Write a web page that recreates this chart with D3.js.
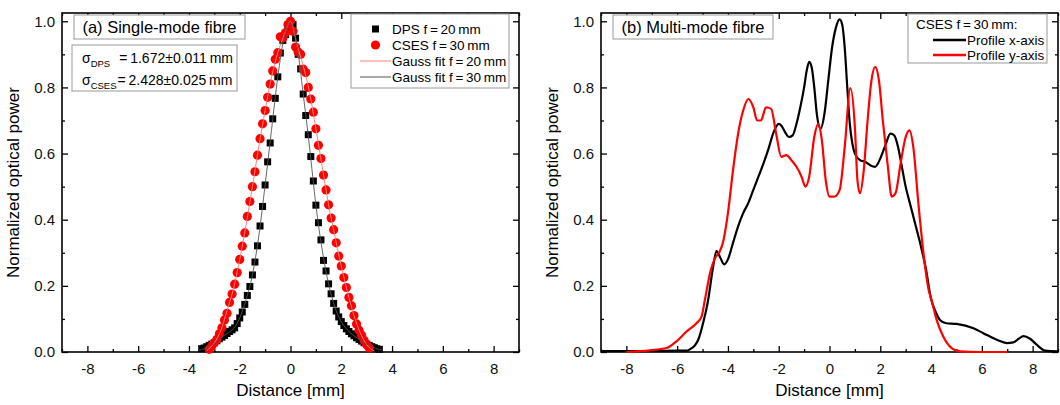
<!DOCTYPE html>
<html>
<head>
<meta charset="utf-8">
<script src="https://cdn.jsdelivr.net/npm/d3@7"></script>
<style>
  body { margin: 0; background: #fff; }
  text { font-family: "Liberation Sans", Arial, sans-serif; }
</style>
</head>
<body>
<div id="chart"></div>
<script>
// ---- data ----
// panel (a): single-mode fibre
const dpsX = [-3.5,-3.4,-3.3,-3.2,-3.1,-3.0,-2.9,-2.8,-2.7,-2.6,-2.5,-2.4,-2.3,-2.2,-2.1,-2.0,-1.9,-1.8,-1.7,-1.6,-1.5,-1.4,-1.3,-1.2,-1.1,-1.0,-0.9,-0.8,-0.7,-0.6,-0.5,-0.4,-0.3,-0.2,-0.1,0.0,0.1,0.2,0.3,0.4,0.5,0.6,0.7,0.8,0.9,1.0,1.1,1.2,1.3,1.4,1.5,1.6,1.7,1.8,1.9,2.0,2.1,2.2,2.3,2.4,2.5,2.6,2.7,2.8,2.9,3.0,3.1,3.2,3.3,3.4,3.5]
const dpsY = [0.010,0.012,0.016,0.020,0.024,0.028,0.034,0.040,0.045,0.050,0.056,0.062,0.067,0.073,0.086,0.103,0.121,0.144,0.171,0.198,0.233,0.272,0.321,0.381,0.440,0.505,0.575,0.632,0.705,0.767,0.832,0.904,0.942,0.960,0.975,0.995,0.990,0.949,0.900,0.856,0.780,0.715,0.657,0.591,0.517,0.444,0.391,0.339,0.277,0.245,0.206,0.176,0.147,0.124,0.106,0.092,0.080,0.070,0.062,0.055,0.049,0.043,0.038,0.033,0.028,0.024,0.020,0.016,0.013,0.010,0.008]

const csesX = [-3.2,-3.1,-3.0,-2.9,-2.8,-2.7,-2.6,-2.5,-2.4,-2.3,-2.2,-2.1,-2.0,-1.9,-1.8,-1.7,-1.6,-1.5,-1.4,-1.3,-1.2,-1.1,-1.0,-0.9,-0.8,-0.7,-0.6,-0.5,-0.4,-0.3,-0.2,-0.1,0.0,0.1,0.2,0.3,0.4,0.5,0.6,0.7,0.8,0.9,1.0,1.1,1.2,1.3,1.4,1.5,1.6,1.7,1.8,1.9,2.0,2.1,2.2,2.3,2.4,2.5,2.6,2.7,2.8,2.9,3.0,3.1]
const csesY = [0.008,0.018,0.028,0.038,0.055,0.073,0.097,0.117,0.150,0.175,0.205,0.240,0.280,0.320,0.360,0.410,0.455,0.500,0.545,0.595,0.645,0.690,0.730,0.770,0.810,0.850,0.885,0.905,0.953,0.950,0.965,0.990,1.000,0.970,0.922,0.907,0.900,0.855,0.845,0.800,0.765,0.725,0.675,0.625,0.585,0.535,0.490,0.445,0.405,0.370,0.330,0.290,0.260,0.225,0.195,0.165,0.140,0.110,0.085,0.066,0.051,0.035,0.022,0.012]

const fitDpsX = [-3.6,-3.25,-3.0,-2.75,-2.5,-2.25,-2.0,-1.75,-1.5,-1.25,-1.0,-0.75,-0.5,-0.25,0,0.25,0.5,0.75,1.0,1.25,1.5,1.75,2.0,2.25,2.5,2.75,3.0,3.25,3.6]
const fitDpsY = [0.006,0.014,0.026,0.042,0.056,0.070,0.103,0.158,0.233,0.350,0.505,0.670,0.832,0.952,0.998,0.930,0.780,0.620,0.444,0.308,0.206,0.135,0.092,0.066,0.049,0.036,0.024,0.014,0.006]

const fitCsesX = [-3.3,-3.0,-2.75,-2.5,-2.25,-2.0,-1.75,-1.5,-1.25,-1.0,-0.75,-0.5,-0.25,0,0.25,0.5,0.75,1.0,1.25,1.5,1.75,2.0,2.25,2.5,2.75,3.0,3.3]
const fitCsesY = [0.004,0.028,0.064,0.125,0.190,0.280,0.385,0.500,0.620,0.730,0.830,0.905,0.958,1.000,0.930,0.865,0.785,0.675,0.560,0.445,0.350,0.260,0.180,0.110,0.058,0.022,0.003]

// panel (b): multi-mode fibre, CSES f = 30 mm
const profXx = [-9,-7,-6,-5.63,-5.5,-5.3,-5.17,-4.98,-4.78,-4.6,-4.45,-4.3,-4.15,-4.0,-3.8,-3.6,-3.4,-3.2,-3.0,-2.8,-2.6,-2.4,-2.2,-2.0,-1.9,-1.75,-1.6,-1.45,-1.3,-1.15,-1.0,-0.9,-0.8,-0.7,-0.6,-0.5,-0.35,-0.2,-0.05,0.1,0.25,0.4,0.5,0.6,0.7,0.8,0.9,1.0,1.2,1.4,1.6,1.8,2.0,2.2,2.4,2.55,2.7,2.85,3.0,3.2,3.4,3.6,3.8,4.0,4.15,4.35,4.6,5.0,5.67,6.06,6.59,6.98,7.24,7.45,7.64,7.9,8.16,8.5,9]
const profXy = [0.003,0.003,0.004,0.004,0.008,0.020,0.037,0.087,0.157,0.250,0.305,0.285,0.265,0.280,0.330,0.380,0.420,0.450,0.490,0.530,0.570,0.615,0.665,0.690,0.685,0.665,0.650,0.655,0.690,0.740,0.800,0.850,0.877,0.860,0.800,0.720,0.675,0.720,0.820,0.920,0.980,1.006,0.990,0.920,0.800,0.690,0.630,0.600,0.580,0.575,0.565,0.560,0.585,0.625,0.660,0.655,0.620,0.560,0.500,0.440,0.380,0.320,0.250,0.160,0.127,0.097,0.087,0.085,0.072,0.057,0.037,0.027,0.029,0.040,0.048,0.040,0.022,0.004,0.002]

const profYx = [-8,-7.08,-6.42,-6.03,-5.63,-5.24,-5.04,-4.91,-4.7,-4.5,-4.35,-4.2,-4.0,-3.8,-3.6,-3.4,-3.2,-3.0,-2.85,-2.7,-2.5,-2.3,-2.1,-1.9,-1.7,-1.5,-1.3,-1.1,-0.95,-0.8,-0.6,-0.45,-0.3,-0.15,0.0,0.2,0.4,0.6,0.82,1.0,1.1,1.2,1.35,1.5,1.65,1.8,1.95,2.1,2.3,2.45,2.6,2.8,3.0,3.15,3.3,3.5,3.7,3.9,4.02,4.22,4.48,4.81,5.14,6.0,7.0]
const profYy = [0.000,0.005,0.012,0.032,0.062,0.087,0.107,0.157,0.240,0.285,0.300,0.330,0.420,0.550,0.660,0.730,0.765,0.740,0.700,0.700,0.740,0.735,0.660,0.590,0.595,0.580,0.560,0.530,0.500,0.530,0.650,0.690,0.640,0.520,0.470,0.470,0.490,0.620,0.798,0.680,0.520,0.480,0.550,0.700,0.820,0.862,0.820,0.700,0.560,0.470,0.480,0.570,0.650,0.670,0.620,0.450,0.300,0.190,0.157,0.097,0.047,0.012,0.002,0.000,0.000]

const xMajor = [-8,-6,-4,-2,0,2,4,6,8]
const xMinor = [-9,-7,-5,-3,-1,1,3,5,7,9]
const yMajor = [0,0.2,0.4,0.6,0.8,1.0]
const yMinor = [0.1,0.3,0.5,0.7,0.9]

// ---- layout ----
const W = 1060, H = 405
const plotTop = 13, plotBottom = 352
const panelA = {left: 62, right: 519}
const panelB = {left: 601, right: 1058}

const svg = d3.select("#chart").append("svg")
  .attr("width", W)
  .attr("height", H)

const y = d3.scaleLinear().domain([0, 1.025]).range([plotBottom, plotTop])
const fmtX = d => String(d)

function drawFrame(p) {
  const x = d3.scaleLinear().domain([-9, 9]).range([p.left, p.right])
  const g = svg.append("g")

  // bottom (labels) + minor, top mirror
  g.append("g").attr("transform", `translate(0,${plotBottom})`)
    .call(d3.axisBottom(x).tickValues(xMajor).tickSize(-6).tickPadding(11).tickFormat(fmtX))
  g.append("g").attr("transform", `translate(0,${plotBottom})`)
    .call(d3.axisBottom(x).tickValues(xMinor).tickSize(-3).tickFormat(""))
  g.append("g").attr("transform", `translate(0,${plotTop})`)
    .call(d3.axisTop(x).tickValues(xMajor).tickSize(-6).tickFormat(""))
  g.append("g").attr("transform", `translate(0,${plotTop})`)
    .call(d3.axisTop(x).tickValues(xMinor).tickSize(-3).tickFormat(""))

  g.append("g").attr("transform", `translate(${p.left},0)`)
    .call(d3.axisLeft(y).tickValues(yMajor).tickSize(-6).tickPadding(7).tickFormat(d3.format(".1f")))
  g.append("g").attr("transform", `translate(${p.left},0)`)
    .call(d3.axisLeft(y).tickValues(yMinor).tickSize(-3).tickFormat(""))
  g.append("g").attr("transform", `translate(${p.right},0)`)
    .call(d3.axisRight(y).tickValues(yMajor).tickSize(-6).tickFormat(""))
  g.append("g").attr("transform", `translate(${p.right},0)`)
    .call(d3.axisRight(y).tickValues(yMinor).tickSize(-3).tickFormat(""))

  g.selectAll(".domain").remove()
  g.selectAll(".tick line").attr("stroke", "#000").attr("stroke-width", 1.3)
  g.selectAll(".tick text")
    .style("font-family", "'Liberation Sans', Arial, sans-serif")
    .style("font-size", "15px")
    .attr("fill", "#111")

  g.append("rect")
    .attr("x", p.left).attr("y", plotTop)
    .attr("width", p.right - p.left).attr("height", plotBottom - plotTop)
    .attr("fill", "none").attr("stroke", "#000").attr("stroke-width", 1.6)

  // axis titles
  svg.append("text")
    .attr("x", (p.left + p.right) / 2).attr("y", 396)
    .attr("text-anchor", "middle")
    .style("font-size", "17px")
    .text("Distance [mm]")
  svg.append("text")
    .attr("transform", `translate(${p.left - 43},${(plotTop + plotBottom) / 2}) rotate(-90)`)
    .attr("text-anchor", "middle")
    .style("font-size", "17px")
    .text("Normalized optical power")

  return x
}

function titleBox(p, text, w) {
  svg.append("rect")
    .attr("x", p.left + 12).attr("y", 15)
    .attr("width", w).attr("height", 24)
    .attr("fill", "#fff").attr("stroke", "#999").attr("stroke-width", 1)
  svg.append("text")
    .attr("x", p.left + 12 + w / 2).attr("y", 33)
    .attr("text-anchor", "middle")
    .style("font-size", "16.5px")
    .text(text)
}

// ---- panel (a) ----
const xa = drawFrame(panelA)

const plotA = svg.append("g")
const dps = dpsX.map((d, i) => ({x: d, y: dpsY[i]}))
const cses = csesX.map((d, i) => ({x: d, y: csesY[i]}))

plotA.selectAll("rect.dps")
  .data(dps)
  .join("rect")
    .attr("class", "dps")
    .attr("x", d => xa(d.x) - 3.5)
    .attr("y", d => y(d.y) - 3.5)
    .attr("width", 7)
    .attr("height", 7)
    .attr("fill", "#000")

plotA.selectAll("circle.cses")
  .data(cses)
  .join("circle")
    .attr("class", "cses")
    .attr("cx", d => xa(d.x))
    .attr("cy", d => y(d.y))
    .attr("r", 4.6)
    .attr("fill", "#ff0000")

const lineA = d3.line().x(d => xa(d[0])).y(d => y(d[1])).curve(d3.curveMonotoneX)
plotA.append("path")
  .datum(fitCsesX.map((d, i) => [d, fitCsesY[i]]))
  .attr("d", lineA)
  .attr("fill", "none").attr("stroke", "#ff8080").attr("stroke-width", 1)
plotA.append("path")
  .datum(fitDpsX.map((d, i) => [d, fitDpsY[i]]))
  .attr("d", lineA)
  .attr("fill", "none").attr("stroke", "#555").attr("stroke-width", 0.9)

titleBox(panelA, "(a) Single-mode fibre", 171)

// sigma box
svg.append("rect")
  .attr("x", 72).attr("y", 45).attr("width", 165).attr("height", 46)
  .attr("fill", "#fff").attr("stroke", "#999")
const sig = [
  {sub: "DPS", val: "=\u20091.672\u00b10.011\u2009mm", yy: 63},
  {sub: "CSES", val: "=\u20092.428\u00b10.025\u2009mm", yy: 85}
]
sig.forEach(s => {
  const t = svg.append("text").attr("x", 82).attr("y", s.yy).style("font-size", "14px")
  t.append("tspan").text("\u03c3")
  t.append("tspan").attr("dy", 4).style("font-size", "9.5px").text(s.sub)
  t.append("tspan").attr("dy", -4).attr("dx", s.sub == "DPS" ? 9 : 1).text(s.val)
})

// legend (a)
svg.append("rect")
  .attr("x", 351).attr("y", 14).attr("width", 158).attr("height", 74)
  .attr("fill", "#fff").attr("stroke", "#999")
const legA = [
  {label: "DPS f\u2009=\u200920\u2009mm", type: "square"},
  {label: "CSES f\u2009=\u200930\u2009mm", type: "circle"},
  {label: "Gauss fit f\u2009=\u200920\u2009mm", type: "pink"},
  {label: "Gauss fit f\u2009=\u200930\u2009mm", type: "grey"}
]
legA.forEach((d, i) => {
  const yy = 29 + i * 16
  if (d.type == "square") svg.append("rect").attr("x", 372).attr("y", yy - 3.5).attr("width", 7).attr("height", 7).attr("fill", "#000")
  if (d.type == "circle") svg.append("circle").attr("cx", 375.5).attr("cy", yy).attr("r", 4.6).attr("fill", "#ff0000")
  if (d.type == "pink") svg.append("line").attr("x1", 360).attr("x2", 391).attr("y1", yy).attr("y2", yy).attr("stroke", "#ff8080")
  if (d.type == "grey") svg.append("line").attr("x1", 360).attr("x2", 391).attr("y1", yy).attr("y2", yy).attr("stroke", "#555")
  svg.append("text").attr("x", 392).attr("y", yy + 5).style("font-size", "13.5px").text(d.label)
})

// ---- panel (b) ----
const xb = drawFrame(panelB)

const lineB = d3.line().x(d => xb(d[0])).y(d => y(d[1])).curve(d3.curveMonotoneX)
svg.append("path")
  .datum(profXx.map((d, i) => [d, profXy[i]]))
  .attr("d", lineB)
  .attr("fill", "none").attr("stroke", "#000").attr("stroke-width", 2.2)
svg.append("path")
  .datum(profYx.map((d, i) => [d, profYy[i]]))
  .attr("d", lineB)
  .attr("fill", "none").attr("stroke", "#ff0000").attr("stroke-width", 2.2)

titleBox(panelB, "(b) Multi-mode fibre", 160)

// legend (b)
svg.append("rect")
  .attr("x", 908).attr("y", 14).attr("width", 139).attr("height", 49)
  .attr("fill", "#fff").attr("stroke", "#999")
svg.append("text").attr("x", 916).attr("y", 29).style("font-size", "13.5px").text("CSES f\u2009=\u200930\u2009mm:")
const legB = [{label: "Profile x-axis", color: "#000"}, {label: "Profile y-axis", color: "#ff0000"}]
legB.forEach((d, i) => {
  const yy = 40 + i * 15
  svg.append("line").attr("x1", 933).attr("x2", 966).attr("y1", yy).attr("y2", yy).attr("stroke", d.color).attr("stroke-width", 2.5)
  svg.append("text").attr("x", 967).attr("y", yy + 5).style("font-size", "13.5px").text(d.label)
})
</script>
</body>
</html>
